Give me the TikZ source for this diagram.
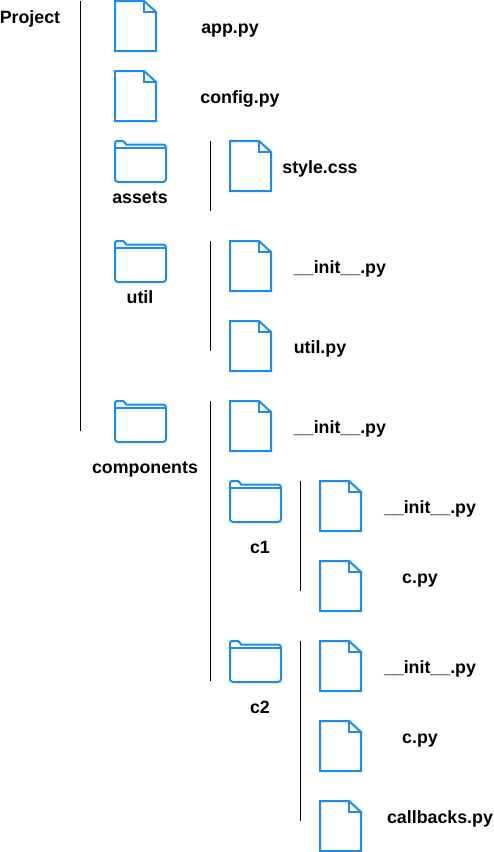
\documentclass[tikz,border=0pt]{standalone}
\usepackage{fontspec}
\setmainfont{Liberation Sans}
\usepackage{xcolor}
\definecolor{iconblue}{HTML}{1A8CF0}
\tikzset{
  label text/.style={font=\fontsize{17.8}{20}\selectfont\bfseries,inner sep=0pt,anchor=base},
  treeline/.style={black,line width=0.9pt},
  fileicon/.pic={
    \draw[iconblue,line width=2pt,fill=white,line join=miter]
      (0,0) -- (29,0) -- (41,11) -- (41,50) -- (0,50) -- cycle;
    \draw[iconblue,line width=2pt,line join=miter] (29,0) -- (29,11) -- (41,11);
  },
  foldericon/.pic={
    \draw[iconblue,line width=2pt,fill=white,rounded corners=2pt]
      (0,41) -- (0,0) -- (10,0) [rounded corners=0.8pt] -- (10.5,3.5) [rounded corners=3pt] -- (51,3.5) -- (51,41) [rounded corners=3pt] -- (0,41) -- cycle;
    \draw[iconblue,line width=1.5pt] (0,7) -- (51,7);
  },
}
\begin{document}
\begin{tikzpicture}[x=1pt,y=-1pt]
  \useasboundingbox (0,0) rectangle (494,852);

  % Tree lines
  \foreach \n/\x/\a/\b in {root/80/1/431,assets/210/141/211,util/210/241/351,comp/210/401/681,cone/300/481/591,ctwo/300/641/821} {
    \coordinate (\n top) at (\x,\a);
    \coordinate (\n bot) at (\x,\b);
    \draw[treeline] (\n top) -- (\n bot);
  }

  % File icons
  \foreach \x/\y in {115/1,115/71,230/141,230/241,230/321,230/401,320/481,320/561,320/641,320/721,320/801} {
    \pic at (\x,\y) {fileicon};
  }

  % Folder icons
  \foreach \x/\y in {115/141,115/241,115/401,230/481,230/641} {
    \pic at (\x,\y) {foldericon};
  }

  % Labels
  \node[label text] (project) at (30,23.3) {Project};
  \node[label text] (app) at (230,33.3) {app.py};
  \node[label text] (config) at (240,103.3) {config.py};
  \node[label text] (assets) at (140,203.3) {assets};
  \node[label text] (style) at (320,173.3) {style.css};
  \node[label text] (util) at (140,303.3) {util};
  \node[label text] (utilinit) at (340,273.3) {\_\_init\_\_.py};
  \node[label text] (utilpy) at (320,353.3) {util.py};
  \node[label text] (components) at (145,473.3) {components};
  \node[label text] (compinit) at (340,433.3) {\_\_init\_\_.py};
  \node[label text] (cone) at (260,553.3) {c1};
  \node[label text] (coneinit) at (430,513.3) {\_\_init\_\_.py};
  \node[label text] (conepy) at (420,583.3) {c.py};
  \node[label text] (ctwo) at (260,713.3) {c2};
  \node[label text] (ctwoinit) at (430,673.3) {\_\_init\_\_.py};
  \node[label text] (ctwopy) at (420,743.3) {c.py};
  \node[label text] (callbacks) at (440,823.3) {callbacks.py};
\end{tikzpicture}
\end{document}
